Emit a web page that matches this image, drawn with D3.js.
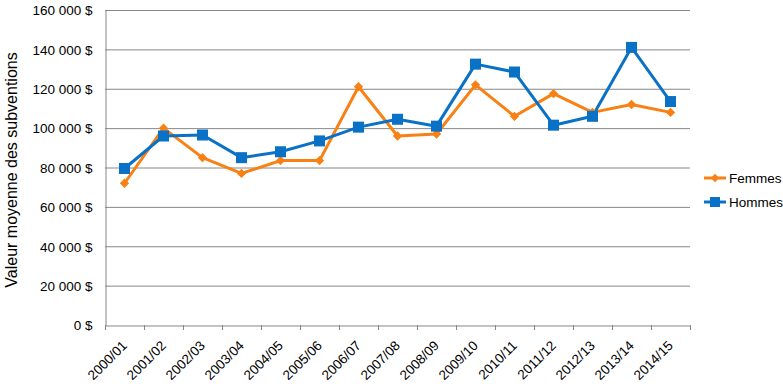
<!DOCTYPE html>
<html><head><meta charset="utf-8">
<script src="https://cdn.jsdelivr.net/npm/d3@7"></script>
<style>body{margin:0;background:#fff}svg{display:block}text{font-family:"Liberation Sans",Arial,sans-serif}</style>
</head><body><svg id="c" width="783" height="384"></svg>
<script>
const categories = ["2000/01","2001/02","2002/03","2003/04","2004/05","2005/06","2006/07","2007/08","2008/09","2009/10","2010/11","2011/12","2012/13","2013/14","2014/15"];
const femmes = [72000,100000,85000,77000,83500,83500,121000,96000,97000,122000,106000,117500,108000,112000,108000];
const hommes = [79500,96000,96500,85000,88000,93500,100500,104500,101000,132500,128500,101500,106000,141000,113500];
const yTicks = [0,20000,40000,60000,80000,100000,120000,140000,160000];
const seriesNames = ["Femmes","Hommes"];
const colors = ["#F98012","#0A72C6"];

const svg = d3.select("#c");
const L=105, R=690, T=10, B=325;
const x = d3.scaleBand().domain(categories).range([L,R]);
const y = d3.scaleLinear().domain([0,160000]).range([B,T]);
const fmt = v => d3.format(",")(v).replace(/,/g," ") + " $";

// gridlines
svg.append("g").selectAll("line").data(yTicks.filter(d=>d>0)).join("line")
  .attr("x1",L).attr("x2",R).attr("y1",d=>y(d)+0.5).attr("y2",d=>y(d)+0.5)
  .attr("stroke","#878787").attr("stroke-width",1);

// y axis
const ya = svg.append("g").attr("transform",`translate(${L+0.5},0.5)`)
  .call(d3.axisLeft(y).tickValues(yTicks).tickFormat(fmt).tickSize(0).tickPadding(13));
ya.select(".domain").attr("stroke","#878787");
ya.selectAll("text").attr("font-size","13.5px").attr("fill","#000");

// x axis
const xa = svg.append("g").attr("transform",`translate(0.5,${B+0.5})`)
  .call(d3.axisBottom(x).tickSizeOuter(0).tickSize(0));
xa.select(".domain").attr("stroke","#878787");
xa.selectAll(".tick").remove();
const edges = categories.map(c=>x(c)).concat([R]);
svg.append("g").selectAll("line").data(edges).join("line")
  .attr("x1",d=>Math.round(d)+0.5).attr("x2",d=>Math.round(d)+0.5)
  .attr("y1",B).attr("y2",B+5).attr("stroke","#878787");
svg.append("g").selectAll("text").data(categories).join("text")
  .attr("transform",d=>`translate(${x(d)+x.bandwidth()/2},${B+18}) rotate(-45)`)
  .attr("text-anchor","end").attr("dy","0.35em")
  .attr("font-size","13.5px").attr("fill","#000").text(d=>d);

// y title
svg.append("text").attr("transform",`translate(17,${170}) rotate(-90)`)
  .attr("text-anchor","middle").attr("font-size","16px").attr("fill","#000")
  .text("Valeur moyenne des subventions");

const cx = c => x(c)+x.bandwidth()/2;
const line = d3.line().x((d,i)=>cx(categories[i])).y(d=>y(d));
const data = [femmes,hommes];
data.forEach((vals,si)=>{
  svg.append("path").datum(vals).attr("d",line).attr("fill","none")
    .attr("stroke",colors[si]).attr("stroke-width",3).attr("stroke-linejoin","round");
});
// markers
svg.append("g").selectAll("path").data(femmes).join("path")
  .attr("d",d3.symbol(d3.symbolDiamond2,56))
  .attr("transform",(d,i)=>`translate(${cx(categories[i])},${y(d)})`)
  .attr("fill",colors[0]);
svg.append("g").selectAll("rect").data(hommes).join("rect")
  .attr("x",(d,i)=>cx(categories[i])-5.5).attr("y",d=>y(d)-5.5)
  .attr("width",11).attr("height",11).attr("fill",colors[1]);

// legend
const lg = svg.append("g");
seriesNames.forEach((n,i)=>{
  const ly = 178 + i*24;
  lg.append("line").attr("x1",704).attr("x2",726).attr("y1",ly).attr("y2",ly)
    .attr("stroke",colors[i]).attr("stroke-width",3);
  if(i===0){
    lg.append("path").attr("d",d3.symbol(d3.symbolDiamond2,44))
      .attr("transform",`translate(715,${ly})`).attr("fill",colors[i]);
  } else {
    lg.append("rect").attr("x",710).attr("y",ly-5).attr("width",10).attr("height",10).attr("fill",colors[i]);
  }
  lg.append("text").attr("x",729).attr("y",ly).attr("dy","0.35em")
    .attr("font-size","13.5px").attr("fill","#000").text(n);
});
</script></body></html>
